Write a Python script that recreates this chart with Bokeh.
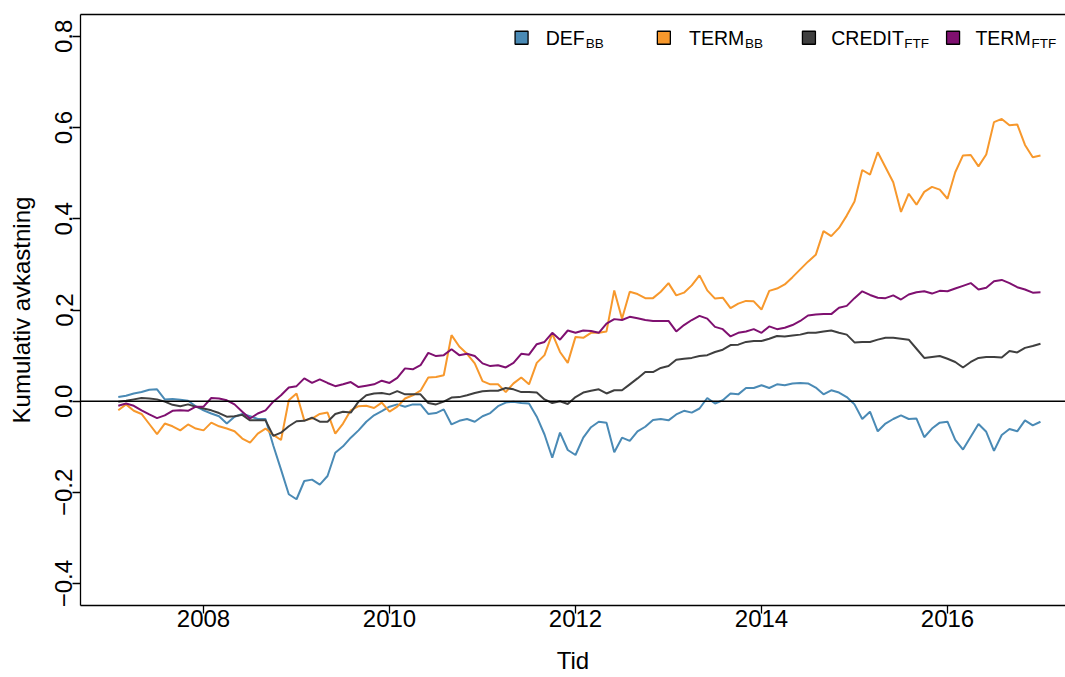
from bokeh.plotting import figure
from bokeh.models import FixedTicker, LinearAxis, Range1d, Span, ColumnDataSource
from bokeh.core.properties import value
from bokeh.embed import file_html
from bokeh.resources import INLINE

# ---------------- data ----------------
start_year = 2007
n_months = 120
months = [start_year + (i + 1) / 12 for i in range(n_months)]

def_bb = [
    0.009, 0.012, 0.017, 0.020, 0.025, 0.026, 0.004, 0.005, 0.003, 0.001,
    -0.011, -0.020, -0.027, -0.033, -0.049, -0.034, -0.028, -0.033, -0.039, -0.039,
    -0.097, -0.150, -0.204, -0.215, -0.175, -0.172, -0.183, -0.164, -0.113, -0.099,
    -0.080, -0.064, -0.045, -0.031, -0.022, -0.012, -0.007, -0.012, -0.007, -0.007,
    -0.028, -0.026, -0.018, -0.051, -0.043, -0.039, -0.045, -0.033, -0.026, -0.011,
    -0.003, -0.001, -0.004, -0.005, -0.034, -0.073, -0.124, -0.069, -0.107, -0.118,
    -0.080, -0.057, -0.045, -0.047, -0.112, -0.080, -0.087, -0.066, -0.056, -0.041,
    -0.039, -0.042, -0.029, -0.021, -0.025, -0.016, 0.007, -0.005, 0.002, 0.017,
    0.015, 0.029, 0.029, 0.035, 0.029, 0.037, 0.035, 0.039, 0.040, 0.039,
    0.030, 0.015, 0.024, 0.019, 0.009, -0.007, -0.039, -0.023, -0.066, -0.049,
    -0.039, -0.031, -0.039, -0.038, -0.079, -0.060, -0.047, -0.045, -0.085, -0.106,
    -0.078, -0.050, -0.067, -0.109, -0.074, -0.061, -0.066, -0.042, -0.053, -0.045,
]

term_bb = [
    -0.020, -0.007, -0.021, -0.028, -0.050, -0.072, -0.049, -0.055, -0.064, -0.051,
    -0.060, -0.064, -0.047, -0.055, -0.060, -0.066, -0.082, -0.091, -0.071, -0.060,
    -0.074, -0.085, 0.002, 0.017, -0.042, -0.038, -0.028, -0.025, -0.071, -0.049,
    -0.020, -0.011, -0.010, -0.015, -0.003, -0.023, -0.012, 0.006, 0.013, 0.023,
    0.052, 0.053, 0.057, 0.145, 0.120, 0.104, 0.083, 0.044, 0.037, 0.037,
    0.020, 0.039, 0.052, 0.037, 0.084, 0.101, 0.148, 0.108, 0.084, 0.141,
    0.139, 0.150, 0.150, 0.153, 0.243, 0.181, 0.240, 0.235, 0.226, 0.226,
    0.240, 0.259, 0.232, 0.238, 0.254, 0.276, 0.243, 0.225, 0.227, 0.204,
    0.214, 0.220, 0.219, 0.201, 0.242, 0.247, 0.256, 0.272, 0.289, 0.306,
    0.321, 0.373, 0.362, 0.380, 0.407, 0.438, 0.507, 0.497, 0.546, 0.513,
    0.480, 0.415, 0.455, 0.431, 0.459, 0.470, 0.464, 0.444, 0.502, 0.539,
    0.540, 0.515, 0.541, 0.612, 0.619, 0.605, 0.607, 0.562, 0.535, 0.539,
]

credit_ftf = [
    -0.001, 0.001, 0.004, 0.007, 0.006, 0.004, -0.001, -0.008, -0.011, -0.007,
    -0.012, -0.016, -0.020, -0.026, -0.034, -0.033, -0.030, -0.042, -0.042, -0.042,
    -0.076, -0.069, -0.055, -0.044, -0.043, -0.036, -0.045, -0.045, -0.028, -0.023,
    -0.025, -0.001, 0.013, 0.017, 0.018, 0.015, 0.022, 0.015, 0.015, 0.015,
    -0.004, -0.007, -0.001, 0.008, 0.009, 0.013, 0.018, 0.022, 0.023, 0.023,
    0.029, 0.026, 0.020, 0.020, 0.019, 0.004, -0.004, 0.000, -0.006, 0.009,
    0.019, 0.023, 0.026, 0.017, 0.024, 0.024, 0.037, 0.050, 0.064, 0.064,
    0.073, 0.077, 0.091, 0.093, 0.095, 0.099, 0.101, 0.108, 0.113, 0.123,
    0.124, 0.130, 0.132, 0.132, 0.137, 0.143, 0.142, 0.144, 0.146, 0.150,
    0.150, 0.153, 0.155, 0.150, 0.146, 0.129, 0.130, 0.130, 0.135, 0.139,
    0.139, 0.137, 0.135, 0.115, 0.095, 0.097, 0.099, 0.093, 0.086, 0.074,
    0.086, 0.095, 0.097, 0.097, 0.096, 0.110, 0.107, 0.117, 0.121, 0.126,
]

term_ftf = [
    -0.010, -0.005, -0.010, -0.020, -0.029, -0.037, -0.031, -0.021, -0.020, -0.021,
    -0.012, -0.012, 0.007, 0.006, 0.002, -0.007, -0.023, -0.038, -0.027, -0.020,
    -0.001, 0.013, 0.030, 0.033, 0.050, 0.040, 0.048, 0.040, 0.033, 0.037,
    0.042, 0.031, 0.034, 0.037, 0.045, 0.040, 0.051, 0.072, 0.070, 0.079,
    0.106, 0.099, 0.101, 0.114, 0.101, 0.104, 0.099, 0.083, 0.077, 0.079,
    0.074, 0.084, 0.104, 0.102, 0.125, 0.130, 0.150, 0.135, 0.155, 0.150,
    0.155, 0.154, 0.150, 0.170, 0.180, 0.178, 0.185, 0.182, 0.178, 0.176,
    0.176, 0.176, 0.153, 0.167, 0.178, 0.187, 0.181, 0.163, 0.158, 0.142,
    0.150, 0.153, 0.158, 0.150, 0.164, 0.158, 0.161, 0.167, 0.176, 0.188,
    0.190, 0.191, 0.191, 0.205, 0.209, 0.226, 0.241, 0.233, 0.227, 0.226,
    0.232, 0.223, 0.234, 0.239, 0.241, 0.236, 0.242, 0.241, 0.247, 0.253,
    0.259, 0.245, 0.249, 0.263, 0.266, 0.259, 0.250, 0.245, 0.238, 0.239,
]

series_names = ["DEF", "TERM", "CREDIT", "TERM"]
series_subs = ["BB", "BB", "FTF", "FTF"]
series_colors = ["#4a8ab5", "#f7982c", "#3f3f3f", "#7f1070"]
series_values = [def_bb, term_bb, credit_ftf, term_ftf]

x_ticks = [2008, 2010, 2012, 2014, 2016]
y_ticks = [-0.4, -0.2, 0.0, 0.2, 0.4, 0.6, 0.8]

# ---------------- figure ----------------
FONT = "Liberation Sans"

p = figure(
    width=1065, height=677,
    output_backend="svg", toolbar_location=None,
    x_range=Range1d(2006.677, 2017.269),
    y_range=Range1d(-0.448, 0.848),
    min_border_left=80, min_border_right=0, min_border_top=14, min_border_bottom=72,
)
p.outline_line_color = None
p.grid.visible = False
p.background_fill_color = "white"
p.border_fill_color = "white"

for ax in (p.xaxis[0], p.yaxis[0]):
    ax.minor_tick_line_color = None
    ax.major_tick_out = 8
    ax.major_tick_in = 0
    ax.axis_line_width = 1.3
    ax.major_tick_line_width = 1.3
    ax.major_label_text_font = FONT
    ax.major_label_text_font_size = "24px"
    ax.major_label_text_color = "black"
    ax.axis_label_text_font = FONT
    ax.axis_label_text_font_size = "24px"
    ax.axis_label_text_font_style = "normal"
    ax.axis_label_text_color = "black"

p.xaxis.ticker = FixedTicker(ticks=x_ticks)
p.xaxis.axis_label = "Tid"
p.xaxis.major_label_standoff = -4
p.xaxis.axis_label_standoff = 17

p.yaxis.ticker = FixedTicker(ticks=y_ticks)
p.yaxis.major_label_overrides = {t: ("%.1f" % t).replace("-", "\u2212") for t in y_ticks}
p.yaxis.major_label_orientation = "parallel"
p.yaxis.axis_label = "Kumulativ avkastning"
p.yaxis.major_label_standoff = 0
p.yaxis.axis_label_standoff = 18

# top border of the box
top = LinearAxis(ticker=FixedTicker(ticks=[]), major_label_text_font_size="0px",
                 major_tick_out=0, major_tick_in=0, minor_tick_out=0, minor_tick_in=0,
                 axis_line_width=1.3, major_label_standoff=0)
p.add_layout(top, "above")

for vals, col in zip(series_values, series_colors):
    src = ColumnDataSource(dict(x=months, y=vals))
    p.line("x", "y", source=src, line_color=col, line_width=2)

p.add_layout(Span(location=0, dimension="width", line_color="black", line_width=1.6))

# ---------------- legend (drawn by hand for subscripts) ----------------
leg_y = 0.797
leg_box_x = [2011.42, 2012.95, 2014.51, 2016.06]
leg_text_x = [2011.68, 2013.22, 2014.75, 2016.30]
main_widths = [39, 55, 72, 55]

p.scatter(x=leg_box_x, y=[leg_y] * 4, marker="square", size=13,
          fill_color=series_colors, line_color="black", line_width=1.3)
p.text(x=leg_text_x, y=[leg_y] * 4, text=series_names,
       text_font=value(FONT), text_font_size="19.5px", text_color="black",
       text_baseline="middle", text_align="left")
for tx, sub, w in zip(leg_text_x, series_subs, main_widths):
    p.text(x=[tx], y=[leg_y], text=[sub], x_offset=w + 1, y_offset=6,
           text_font=value(FONT), text_font_size="13.5px", text_color="black",
           text_baseline="middle", text_align="left")

open("out.html", "w").write(file_html(p, INLINE))
